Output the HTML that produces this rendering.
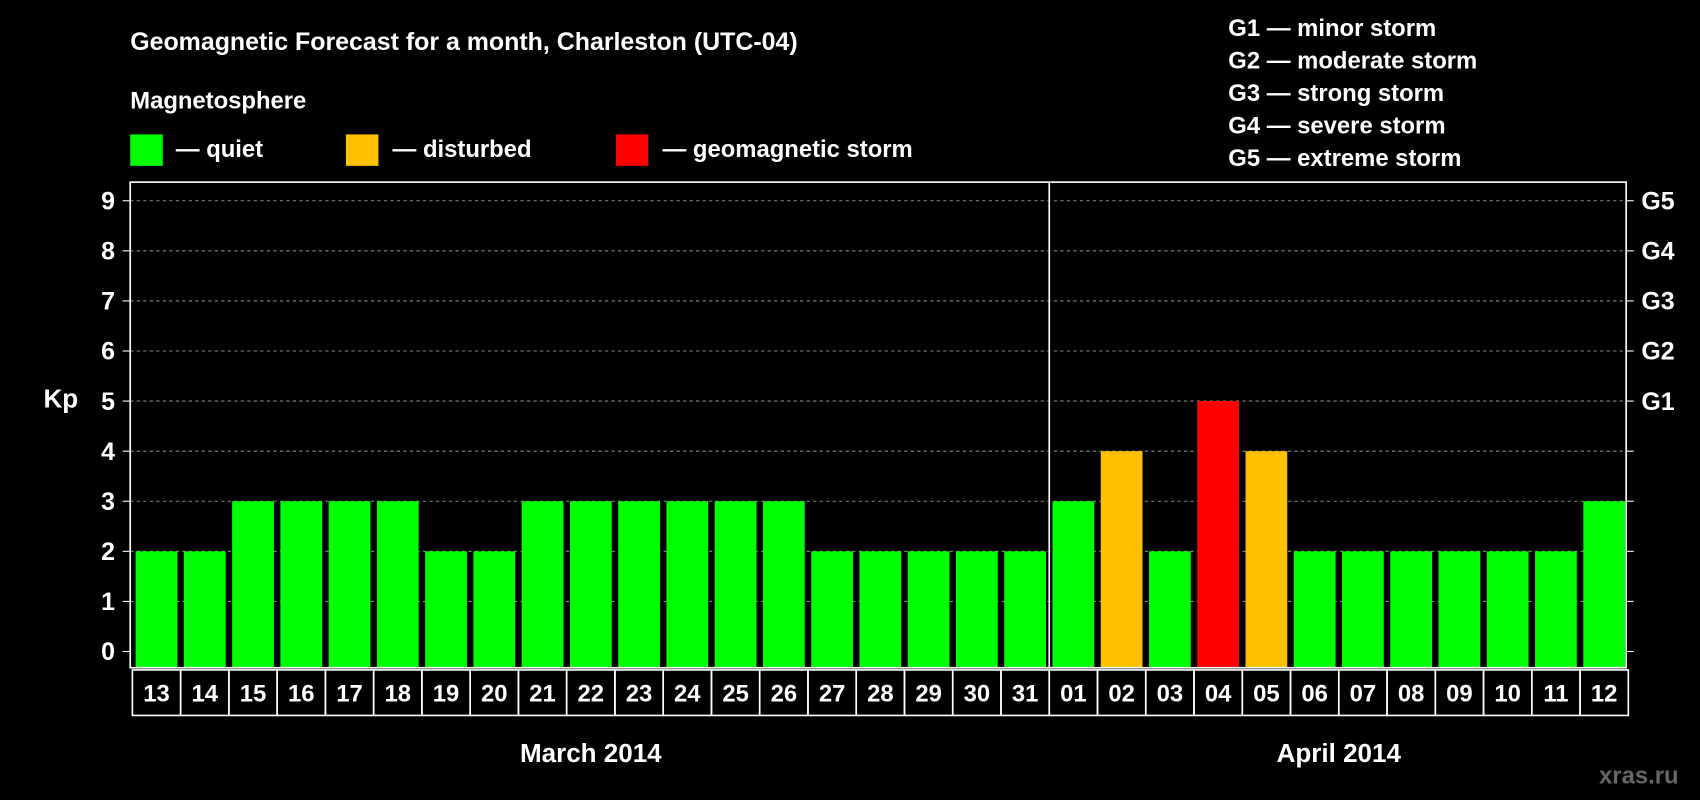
<!DOCTYPE html>
<html><head><meta charset="utf-8"><style>
html,body{margin:0;padding:0;background:#000;}
svg{display:block;font-family:"Liberation Sans",sans-serif;font-weight:bold;}
</style></head><body>
<svg id="chart" width="1700" height="800" viewBox="0 0 1568 738" xmlns="http://www.w3.org/2000/svg">
<rect width="1568" height="738" fill="#000"/>
<text x="120" y="46" fill="#fff" font-size="23">Geomagnetic Forecast for a month, Charleston (UTC-04)</text>
<text x="120" y="100" fill="#fff" font-size="22">Magnetosphere</text>
<g><rect x="120" y="124" width="30" height="29" fill="#00ff00"/><text x="162" y="145" fill="#fff" font-size="22">— quiet</text></g>
<g><rect x="319" y="124" width="30" height="29" fill="#ffc000"/><text x="362" y="145" fill="#fff" font-size="22">— disturbed</text></g>
<g><rect x="568" y="124" width="30" height="29" fill="#ff0000"/><text x="611" y="145" fill="#fff" font-size="22">— geomagnetic storm</text></g>
<g fill="#fff" font-size="22">
<text x="1133" y="33">G1 — minor storm</text>
<text x="1133" y="63">G2 — moderate storm</text>
<text x="1133" y="93">G3 — strong storm</text>
<text x="1133" y="123">G4 — severe storm</text>
<text x="1133" y="153">G5 — extreme storm</text>
</g>
<text x="40" y="376" fill="#fff" font-size="24">Kp</text>
<text x="1475" y="723" fill="#666" font-size="22">xras.ru</text>
<g id="plot"></g>
</svg>
<script>
const days = ["13","14","15","16","17","18","19","20","21","22","23","24","25","26","27","28","29","30","31","01","02","03","04","05","06","07","08","09","10","11","12"];
const kpValues = [2,2,3,3,3,3,2,2,3,3,3,3,3,3,2,2,2,2,2,3,4,2,5,4,2,2,2,2,2,2,3];
const yTicks = [0,1,2,3,4,5,6,7,8,9];
const gLabels = ["G1","G2","G3","G4","G5"];
const months = ["March 2014","April 2014"];
const monthSplit = 19;

const NS="http://www.w3.org/2000/svg";
const g=document.getElementById('plot');
const L=120,R=1500,T=168,B=616;
const slot=(R-L)/days.length;
const x=i=>L+2+i*slot;
const y=v=>601-v*46.2;
function el(tag,attrs,parent){const e=document.createElementNS(NS,tag);for(const k in attrs)e.setAttribute(k,attrs[k]);(parent||g).appendChild(e);return e;}

yTicks.forEach(v=>{
  if(v>0){const gl=el('line',{x1:L,x2:R,y1:y(v),y2:y(v),stroke:'#888','stroke-dasharray':'3,3','stroke-width':1});
  
  }
  el('line',{x1:L-7,x2:L,y1:y(v),y2:y(v),stroke:'#fff'});
  el('line',{x1:R,x2:R+7,y1:y(v),y2:y(v),stroke:'#fff'});
  const t=el('text',{x:106,y:y(v)+8,fill:'#fff','font-size':23,'text-anchor':'end'});
  t.textContent=v;
  
  
});
gLabels.forEach((s,i)=>{
  const t=el('text',{x:1514,y:y(5+i)+8,fill:'#fff','font-size':23});
  t.textContent=s;
  
  
});
kpValues.forEach((v,i)=>{
  const c=v>=5?'#ff0000':(v>=4?'#ffc000':'#00ff00');
  const b=el('rect',{x:x(i)+3,y:y(v),width:slot-6,height:B-y(v),fill:c});
  
  
  const cell=el('rect',{x:x(i),y:618,width:slot,height:42,fill:'none',stroke:'#fff','stroke-width':1.5});
  
  
  const t=el('text',{x:x(i)+slot/2,y:647,fill:'#fff','font-size':22,'text-anchor':'middle'});
  t.textContent=days[i];
  
  
});
const frame=el('rect',{x:L,y:T,width:R-L,height:B-T,fill:'none',stroke:'#fff','stroke-width':1.5});


const div=el('line',{x1:x(monthSplit),x2:x(monthSplit),y1:T,y2:B,stroke:'#fff','stroke-width':1.5});


const m1=el('text',{x:(x(0)+x(monthSplit))/2,y:703,fill:'#fff','font-size':24,'text-anchor':'middle'});
m1.textContent=months[0];


const m2=el('text',{x:(x(monthSplit)+x(days.length))/2,y:703,fill:'#fff','font-size':24,'text-anchor':'middle'});
m2.textContent=months[1];


</script>
</body></html>
